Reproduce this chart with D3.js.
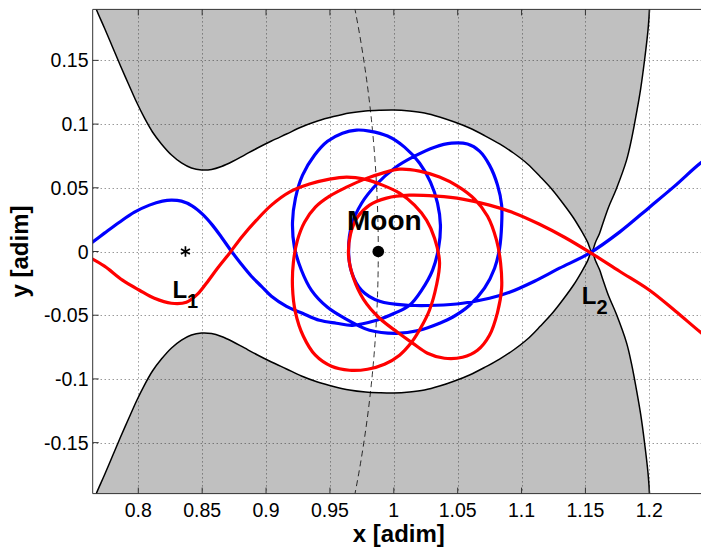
<!DOCTYPE html>
<html>
<head>
<meta charset="utf-8">
<script src="https://cdn.jsdelivr.net/npm/d3@7"></script>
<style>
  body { margin: 0; background: #fff; }
  text { font-family: "Liberation Sans", Arial, Helvetica, sans-serif; }
</style>
</head>
<body>
<svg id="chart" width="701" height="551"></svg>
<script>
// Earth–Moon CR3BP: zero-velocity curves and two transfer trajectories (rotating frame)
const xTicks = [0.8, 0.85, 0.9, 0.95, 1, 1.05, 1.1, 1.15, 1.2];
const yTicks = [-0.15, -0.1, -0.05, 0, 0.05, 0.1, 0.15];
const xTickLabels = ["0.8", "0.85", "0.9", "0.95", "1", "1.05", "1.1", "1.15", "1.2"];
const yTickLabels = ["-0.15", "-0.1", "-0.05", "0", "0.05", "0.1", "0.15"];

const earthX = -0.01215;          // Earth position on the x axis
const moonOrbitRadius = 1;        // Moon orbit around the Earth
const moonPos = [0.98785, 0];
const L1 = [0.8369, 0];
const L2 = [1.1557, 0];

// upper boundary of the forbidden region
const zvcUpper = [
  [0.765, 0.196], [0.7670, 0.1903], [0.7735, 0.1754], [0.7798, 0.1605], [0.7861, 0.1456],
  [0.7923, 0.1315], [0.7986, 0.1173], [0.8048, 0.1048], [0.8111, 0.0938], [0.8181, 0.0844],
  [0.8260, 0.0757], [0.8338, 0.0695], [0.8416, 0.0655], [0.8495, 0.0640], [0.8573, 0.0644],
  [0.8651, 0.0667], [0.8737, 0.0706], [0.8831, 0.0757], [0.8933, 0.0812], [0.9042, 0.0867],
  [0.9160, 0.0922], [0.9277, 0.0977], [0.9403, 0.1024], [0.9528, 0.1059], [0.9653, 0.1087],
  [0.9778, 0.1103], [0.9888, 0.1109], [1.0000, 0.1111], [1.0123, 0.1103], [1.0240, 0.1087],
  [1.0358, 0.1056], [1.0475, 0.1016], [1.0593, 0.0969], [1.0710, 0.0910], [1.0828, 0.0844],
  [1.0937, 0.0773], [1.1047, 0.0687], [1.1148, 0.0585], [1.1242, 0.0483], [1.1328, 0.0373],
  [1.1407, 0.0263], [1.1469, 0.0161], [1.1516, 0.0075], [1.1550, 0.0000],
  [1.1579, 0.0073], [1.1611, 0.0144], [1.1637, 0.0222], [1.1681, 0.0348], [1.1741, 0.0489],
  [1.1822, 0.0717], [1.1861, 0.0882], [1.1904, 0.1110], [1.1932, 0.1275], [1.1963, 0.1503],
  [1.1990, 0.1739], [1.2002, 0.1903], [1.2005, 0.196]
];

// lower boundary of the forbidden region
const zvcLower = [
  [0.765, -0.196], [0.7670, -0.1903], [0.7735, -0.1754], [0.7798, -0.1605], [0.7861, -0.1456],
  [0.7923, -0.1315], [0.7986, -0.1173], [0.8048, -0.1048], [0.8111, -0.0938], [0.8181, -0.0844],
  [0.8260, -0.0757], [0.8338, -0.0695], [0.8416, -0.0655], [0.8495, -0.0640], [0.8573, -0.0644],
  [0.8651, -0.0667], [0.8737, -0.0706], [0.8831, -0.0757], [0.8933, -0.0812], [0.9042, -0.0867],
  [0.9160, -0.0922], [0.9277, -0.0977], [0.9403, -0.1024], [0.9528, -0.1059], [0.9653, -0.1087],
  [0.9778, -0.1103], [0.9888, -0.1109], [1.0000, -0.1111], [1.0123, -0.1103], [1.0240, -0.1087],
  [1.0358, -0.1056], [1.0475, -0.1016], [1.0593, -0.0969], [1.0710, -0.0910], [1.0828, -0.0844],
  [1.0937, -0.0773], [1.1047, -0.0687], [1.1148, -0.0585], [1.1242, -0.0483], [1.1328, -0.0373],
  [1.1407, -0.0263], [1.1469, -0.0161], [1.1516, -0.0075], [1.1550, 0.0000],
  [1.1579, -0.0073], [1.1611, -0.0144], [1.1637, -0.0222], [1.1681, -0.0348], [1.1741, -0.0489],
  [1.1822, -0.0717], [1.1861, -0.0882], [1.1904, -0.1110], [1.1932, -0.1275], [1.1963, -0.1503],
  [1.1990, -0.1739], [1.2002, -0.1903], [1.2005, -0.196]
];

// trajectory entering through L1 above the axis, leaving through L2 upwards
const blueTrajectory = [
  [0.763, 0.0065], [0.7735, 0.0144], [0.7852, 0.0230], [0.797, 0.0309], [0.8087, 0.0364],
  [0.8189, 0.0395], [0.8259, 0.0403], [0.8338, 0.0395], [0.8424, 0.0356], [0.8502, 0.0293],
  [0.858, 0.0207], [0.8651, 0.0112], [0.8729, 0.0002], [0.8807, -0.0100], [0.8885, -0.0194],
  [0.8964, -0.0273], [0.9042, -0.0351], [0.916, -0.0430], [0.9285, -0.0485], [0.9418, -0.0540],
  [0.9551, -0.0563], [0.9677, -0.0579], [0.9865, -0.0540], [1.0005, -0.0485], [1.0123, -0.0422],
  [1.0217, -0.0305], [1.0303, -0.0148], [1.035, 0.0026], [1.0365, 0.0207], [1.0342, 0.0380],
  [1.0287, 0.0544], [1.0201, 0.0694], [1.0084, 0.0819], [0.9951, 0.0906], [0.981, 0.0945],
  [0.9708, 0.0953], [0.9598, 0.0929], [0.9481, 0.0865], [0.9379, 0.0755], [0.9285, 0.0598],
  [0.923, 0.0418], [0.9207, 0.0230], [0.9222, 0.0034], [0.9277, -0.0147], [0.9356, -0.0305],
  [0.9481, -0.0438], [0.963, -0.0532], [0.981, -0.0618], [1.0021, -0.0642], [1.0201, -0.0618],
  [1.0358, -0.0563], [1.0459, -0.0516], [1.0593, -0.0422], [1.071, -0.0288], [1.0789, -0.0131],
  [1.0828, 0.0026], [1.0844, 0.0207], [1.0844, 0.0364], [1.0812, 0.0521], [1.0749, 0.0678],
  [1.0671, 0.0788], [1.0577, 0.0843], [1.0452, 0.0850], [1.0319, 0.0819], [1.0162, 0.0748],
  [1.0005, 0.0654], [0.9865, 0.0528], [0.9748, 0.0379], [0.967, 0.0207], [0.9646, 0.0010],
  [0.967, -0.0163], [0.9748, -0.0305], [0.9889, -0.0391], [1.0123, -0.0422], [1.0334, -0.0422],
  [1.0538, -0.0406], [1.0749, -0.0367], [1.0906, -0.0320], [1.1101, -0.0233], [1.1297, -0.0131],
  [1.1532, -0.0013], [1.1767, 0.0152], [1.2002, 0.0348], [1.2198, 0.0513], [1.2401, 0.0694],
  [1.25, 0.076]
];

// trajectory entering through L1 below the axis, leaving through L2 downwards
const redTrajectory = [
  [0.763, -0.0053], [0.7735, -0.0115], [0.7876, -0.0225], [0.8009, -0.0304], [0.8126, -0.0367],
  [0.8259, -0.0406], [0.8377, -0.0398], [0.8463, -0.0335], [0.8533, -0.0249], [0.862, -0.0131],
  [0.8714, -0.0013], [0.8815, 0.0120], [0.8925, 0.0246], [0.9042, 0.0364], [0.9183, 0.0466],
  [0.934, 0.0529], [0.9497, 0.0568], [0.963, 0.0584], [0.9771, 0.0568], [0.9912, 0.0521],
  [1.0045, 0.0458], [1.0162, 0.0364], [1.0256, 0.0246], [1.0319, 0.0104], [1.0358, -0.0084],
  [1.0334, -0.0265], [1.0279, -0.0461], [1.0209, -0.0603], [1.0139, -0.0713], [1.0045, -0.0814],
  [0.9927, -0.0885], [0.9794, -0.0924], [0.9653, -0.0932], [0.9512, -0.0901], [0.9386, -0.0814],
  [0.9292, -0.0665], [0.923, -0.0477], [0.9207, -0.0281], [0.9214, -0.0084], [0.9246, 0.0089],
  [0.9301, 0.0230], [0.9386, 0.0348], [0.9497, 0.0434], [0.963, 0.0505], [0.9771, 0.0568],
  [0.9912, 0.0615], [1.0045, 0.0646], [1.0201, 0.0631], [1.0358, 0.0584], [1.0499, 0.0513],
  [1.0632, 0.0411], [1.0734, 0.0277], [1.0804, 0.0089], [1.0836, -0.0092], [1.0844, -0.0288],
  [1.0812, -0.0477], [1.0749, -0.0657], [1.0655, -0.0775], [1.0538, -0.0830], [1.0397, -0.0838],
  [1.0264, -0.0798], [1.0147, -0.0719], [1.0029, -0.0634], [0.9889, -0.0524], [0.9763, -0.0375],
  [0.9685, -0.0210], [0.9646, -0.0037], [0.9661, 0.0136], [0.9716, 0.0269], [0.981, 0.0364],
  [0.9943, 0.0419], [1.0123, 0.0442], [1.0334, 0.0434], [1.0538, 0.0411], [1.0749, 0.0364],
  [1.0945, 0.0301], [1.1141, 0.0214], [1.1336, 0.0112], [1.1532, -0.0005], [1.1767, -0.0155],
  [1.2002, -0.0304], [1.2206, -0.0469], [1.2401, -0.0634], [1.25, -0.071]
];

const svg = d3.select("#chart");
const plot = { left: 92.7, right: 705, top: 9.4, bottom: 493.6 };

const x = d3.scaleLinear().domain([0.7643, 1.2436]).range([plot.left, plot.right]);
const y = d3.scaleLinear().domain([-0.19, 0.19]).range([plot.bottom, plot.top]);

svg.append("defs").append("clipPath").attr("id", "plotClip")
  .append("rect")
  .attr("x", plot.left).attr("y", plot.top)
  .attr("width", plot.right - plot.left).attr("height", plot.bottom - plot.top);

const g = svg.append("g").attr("clip-path", "url(#plotClip)");

const smooth = d3.line().x(d => x(d[0])).y(d => y(d[1])).curve(d3.curveCatmullRom.alpha(0.5));

// forbidden regions
[zvcUpper, zvcLower].forEach(pts => {
  g.append("path").attr("d", smooth(pts) + "Z")
    .attr("fill", "#c0c0c0").attr("stroke", "none");
});

// dotted grid
const grid = g.append("g").attr("stroke", "#222").attr("stroke-width", 0.9)
  .attr("stroke-dasharray", "1,3").attr("opacity", 0.75);
xTicks.forEach(t => grid.append("line")
  .attr("x1", Math.round(x(t)) + 0.5).attr("x2", Math.round(x(t)) + 0.5)
  .attr("y1", plot.top).attr("y2", plot.bottom));
yTicks.forEach(t => grid.append("line")
  .attr("y1", Math.round(y(t)) + 0.5).attr("y2", Math.round(y(t)) + 0.5)
  .attr("x1", plot.left).attr("x2", plot.right));

// zero-velocity curve outlines
[zvcUpper, zvcLower].forEach(pts => {
  g.append("path").attr("d", smooth(pts))
    .attr("fill", "none").attr("stroke", "#000").attr("stroke-width", 1.5);
});

// Moon orbit around the Earth (dashed)
g.append("ellipse")
  .attr("cx", x(earthX)).attr("cy", y(0))
  .attr("rx", x(earthX + moonOrbitRadius) - x(earthX))
  .attr("ry", y(0) - y(moonOrbitRadius))
  .attr("fill", "none").attr("stroke", "#000").attr("stroke-width", 0.8)
  .attr("stroke-dasharray", "6,4");

// trajectories
g.append("path").attr("d", smooth(blueTrajectory))
  .attr("fill", "none").attr("stroke", "#0000ff").attr("stroke-width", 3.2)
  .attr("stroke-linejoin", "round").attr("stroke-linecap", "round");
g.append("path").attr("d", smooth(redTrajectory))
  .attr("fill", "none").attr("stroke", "#ff0000").attr("stroke-width", 3.2)
  .attr("stroke-linejoin", "round").attr("stroke-linecap", "round");

// Moon and L1 markers
g.append("circle").attr("cx", x(moonPos[0])).attr("cy", y(moonPos[1])).attr("r", 5.8).attr("fill", "#000");
g.append("path")
  .attr("transform", `translate(${x(L1[0])},${y(L1[1])})`)
  .attr("d", d3.symbol(d3.symbolAsterisk, 75)())
  .attr("fill", "none").attr("stroke", "#000").attr("stroke-width", 1.7);

// axes frame
const frame = svg.append("g").attr("stroke", "#333").attr("stroke-width", 1).attr("fill", "none");
frame.append("line").attr("x1", plot.left).attr("x2", plot.left).attr("y1", plot.top).attr("y2", plot.bottom);
frame.append("line").attr("x1", plot.left).attr("x2", plot.right).attr("y1", plot.bottom).attr("y2", plot.bottom);
frame.append("line").attr("x1", plot.left).attr("x2", plot.right).attr("y1", plot.top).attr("y2", plot.top);

const tickLen = 6;
xTicks.forEach(t => {
  frame.append("line").attr("x1", x(t)).attr("x2", x(t)).attr("y1", plot.bottom).attr("y2", plot.bottom - tickLen);
  frame.append("line").attr("x1", x(t)).attr("x2", x(t)).attr("y1", plot.top).attr("y2", plot.top + tickLen);
});
yTicks.forEach(t => {
  frame.append("line").attr("x1", plot.left).attr("x2", plot.left + tickLen).attr("y1", y(t)).attr("y2", y(t));
});

// tick labels
svg.append("g").selectAll("text").data(xTicks).join("text")
  .attr("x", d => x(d)).attr("y", 516.5)
  .attr("text-anchor", "middle").attr("font-size", 19.5).attr("fill", "#000")
  .text((d, i) => xTickLabels[i]);
svg.append("g").selectAll("text").data(yTicks).join("text")
  .attr("x", 88.5).attr("y", d => y(d) + 7)
  .attr("text-anchor", "end").attr("font-size", 19.5).attr("fill", "#000")
  .text((d, i) => yTickLabels[i]);

// axis titles
svg.append("text").attr("x", (plot.left + plot.right) / 2).attr("y", 541.5)
  .attr("text-anchor", "middle").attr("font-size", 24).attr("font-weight", "bold")
  .text("x [adim]");
svg.append("text").attr("transform", `translate(28,${(plot.top + plot.bottom) / 2}) rotate(-90)`)
  .attr("text-anchor", "middle").attr("font-size", 24).attr("font-weight", "bold")
  .text("y [adim]");

// point labels
svg.append("text").attr("x", x(moonPos[0]) + 6).attr("y", y(moonPos[1]) - 22)
  .attr("text-anchor", "middle").attr("font-size", 28).attr("font-weight", "bold")
  .text("Moon");

function lagrangeLabel(pos, dx, dy, idx) {
  const t = svg.append("text").attr("x", x(pos[0]) + dx).attr("y", y(pos[1]) + dy)
    .attr("font-size", 24).attr("font-weight", "bold");
  t.append("tspan").text("L");
  t.append("tspan").attr("font-size", 20).attr("dy", 10).text(idx);
}
lagrangeLabel(L1, -13, 46, "1");
lagrangeLabel(L2, -11, 52, "2");
</script>
</body>
</html>
